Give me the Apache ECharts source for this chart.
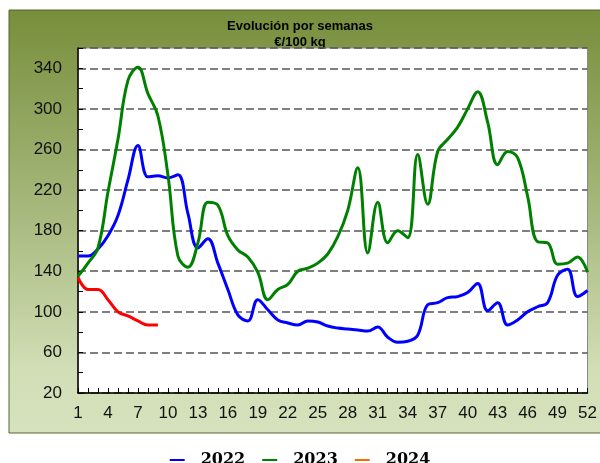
<!DOCTYPE html>
<html>
<head>
<meta charset="utf-8">
<script src="https://cdn.jsdelivr.net/npm/echarts@6/dist/echarts.min.js"></script>
<style>
  html, body { margin: 0; padding: 0; background: #fff; }
  #chart { width: 600px; height: 463px; }
</style>
</head>
<body>
<div id="chart"></div>
<script>
const chart = echarts.init(document.getElementById('chart'));

// weekly prices, €/100 kg
const weeks = ['1','2','3','4','5','6','7','8','9','10','11','12','13','14','15','16','17','18','19','20',
    '21','22','23','24','25','26','27','28','29','30','31','32','33','34','35','36','37','38','39','40',
    '41','42','43','44','45','46','47','48','49','50','51','52'];

const prices2022 = [155, 155, 162, 175, 195, 230, 264, 233, 234, 232, 235, 197, 163, 172, 148, 122, 97, 91, 112, 102,
    92, 89, 87, 91, 90, 86, 84, 83, 82, 81, 85, 75, 70, 71, 77, 107, 109, 114, 115, 119,
    128, 101, 109, 87, 92, 100, 105, 109, 136, 142, 115, 121];

const prices2023 = [135, 148, 163, 218, 270, 328, 341, 315, 293, 235, 155, 144, 168, 208, 205, 175, 161, 154, 139, 112,
    122, 127, 140, 143, 148, 157, 174, 200, 242, 158, 208, 168, 180, 173, 255, 206, 258, 270, 282, 300,
    317, 287, 245, 258, 252, 214, 169, 168, 147, 148, 154, 139];

const prices2024 = [134, 122, 122, 112, 100, 96, 91, 87, 87];

const labelFont = 'Liberation Sans, Arial, sans-serif';

function lineSeries(name, data, color) {
    return {
        name: name,
        type: 'line',
        data: data,
        smooth: 0.4,
        symbol: 'none',
        lineStyle: { color: color, width: 3 },
        itemStyle: { color: color }
    };
}

const option = {
    animation: false,
    graphic: [
        {
            type: 'rect',
            z: -10,
            shape: { x: 9, y: 10, width: 600, height: 423 },
            style: {
                fill: new echarts.graphic.LinearGradient(0, 0, 0, 1, [
                    { offset: 0, color: '#778e3b' },
                    { offset: 0.5, color: '#a9bb80' },
                    { offset: 0.85, color: '#d2deb6' },
                    { offset: 1, color: '#d6e2bd' }
                ]),
                stroke: '#56672c',
                lineWidth: 1
            }
        },
        {
            type: 'text',
            left: 'center',
            top: 18,
            style: {
                text: 'Evolución por semanas\n€/100 kg',
                font: 'bold 13px ' + labelFont,
                fill: '#000',
                textAlign: 'center',
                lineHeight: 16
            }
        }
    ],
    grid: {
        left: 78,
        right: 7,
        top: 48,
        bottom: 70,
        show: true,
        backgroundColor: '#fff',
        borderColor: '#888',
        borderWidth: 1
    },
    legend: {
        top: 447,
        left: 'center',
        icon: 'rect',
        itemWidth: 15,
        itemHeight: 2,
        itemGap: 17,
        textStyle: {
            fontFamily: 'DejaVu Serif',
            fontWeight: 'bold',
            fontSize: 16,
            color: '#000',
            padding: [0, 0, 0, 11]
        },
        data: [
            { name: '2022', itemStyle: { color: '#0000ff' } },
            { name: '2023', itemStyle: { color: '#008000' } },
            { name: '2024', itemStyle: { color: '#ff6a00' } }
        ]
    },
    xAxis: {
        type: 'category',
        data: weeks,
        boundaryGap: false,
        axisLine: { lineStyle: { color: '#000', width: 1.5 } },
        axisTick: { inside: true, length: 5, interval: 0, lineStyle: { color: '#000' } },
        axisLabel: {
            interval: 2,
            margin: 12,
            fontFamily: labelFont,
            fontSize: 17,
            color: '#111'
        },
        splitLine: { show: false }
    },
    yAxis: {
        type: 'value',
        min: 20,
        max: 360,
        interval: 40,
        axisLine: { show: true, lineStyle: { color: '#000', width: 1.5 } },
        axisTick: { show: true, inside: true, length: 5, lineStyle: { color: '#000' } },
        minorTick: { show: true, splitNumber: 2, length: 5, lineStyle: { color: '#000' } },
        axisLabel: {
            margin: 16,
            showMaxLabel: false,
            fontFamily: labelFont,
            fontSize: 17,
            color: '#111'
        },
        splitLine: { lineStyle: { color: '#555', type: [8, 4], width: 1.5 } }
    },
    series: [
        lineSeries('2022', prices2022, '#0000ff'),
        lineSeries('2023', prices2023, '#008000'),
        lineSeries('2024', prices2024, '#ff0000')
    ]
};

chart.setOption(option);
</script>
</body>
</html>
